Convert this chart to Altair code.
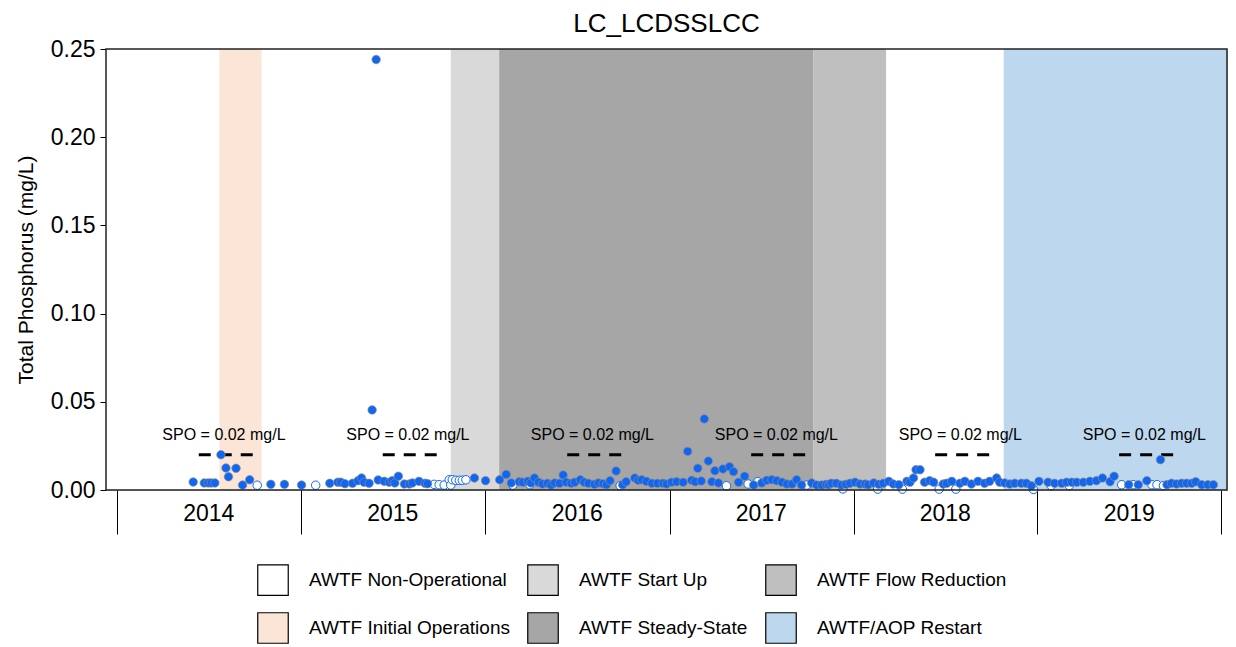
import altair as alt
import pandas as pd

FONT = "Liberation Sans"
W, H = 1121, 441

# ---- detected (filled) samples ----
det_dates = [
    "2014-06-01", "2014-06-23", "2014-07-01", "2014-07-07", "2014-07-14", "2014-07-26", "2014-08-05",
    "2014-08-10", "2014-08-25", "2014-09-07", "2014-09-21", "2014-11-02", "2014-11-29",
    "2015-01-02", "2015-02-27", "2015-03-15", "2015-03-21", "2015-03-29", "2015-04-13", "2015-04-24",
    "2015-05-01", "2015-05-06", "2015-05-16", "2015-05-22", "2015-05-30", "2015-06-03", "2015-06-15",
    "2015-06-25", "2015-07-01", "2015-07-06", "2015-07-13", "2015-07-25", "2015-08-04", "2015-08-10",
    "2015-08-23", "2015-09-04", "2015-09-09", "2015-12-11",
    "2016-01-02", "2016-01-30", "2016-02-12", "2016-02-22", "2016-03-09", "2016-03-16", "2016-03-26",
    "2016-04-01", "2016-04-08", "2016-04-16", "2016-04-24", "2016-05-04", "2016-05-11", "2016-05-18",
    "2016-05-28", "2016-06-04", "2016-06-10", "2016-06-20", "2016-06-27", "2016-07-08", "2016-07-16",
    "2016-07-24", "2016-08-05", "2016-08-13", "2016-08-22", "2016-08-29", "2016-09-05", "2016-09-17",
    "2016-09-30", "2016-10-07", "2016-10-24", "2016-10-31", "2016-11-07", "2016-11-16", "2016-11-27",
    "2016-12-08", "2016-12-19", "2016-12-26",
    "2017-01-05", "2017-01-15", "2017-01-28", "2017-02-06", "2017-02-14", "2017-02-21", "2017-02-26",
    "2017-03-05", "2017-03-11", "2017-03-19", "2017-03-26", "2017-04-01", "2017-04-08", "2017-04-17",
    "2017-04-30", "2017-05-08", "2017-05-18", "2017-05-30", "2017-06-17", "2017-07-03", "2017-07-13",
    "2017-07-23", "2017-08-02", "2017-08-12", "2017-08-22", "2017-09-01", "2017-09-10", "2017-09-20",
    "2017-10-10", "2017-10-20", "2017-10-30", "2017-11-08", "2017-11-13", "2017-11-18", "2017-11-28",
    "2017-12-08", "2017-12-17", "2017-12-25",
    "2018-01-04", "2018-01-14", "2018-01-24", "2018-01-30", "2018-02-10", "2018-02-20", "2018-03-01",
    "2018-03-12", "2018-03-21", "2018-04-01", "2018-04-17", "2018-04-23", "2018-04-30", "2018-05-05",
    "2018-05-13", "2018-05-22", "2018-06-01", "2018-06-09", "2018-06-28", "2018-07-05", "2018-07-15",
    "2018-07-31", "2018-08-10", "2018-08-23", "2018-09-05", "2018-09-18", "2018-09-28", "2018-10-12",
    "2018-10-18", "2018-10-28", "2018-11-07", "2018-11-17", "2018-11-30", "2018-12-10", "2018-12-20",
    "2019-01-04", "2019-01-22", "2019-02-04", "2019-02-18", "2019-02-28", "2019-03-10", "2019-03-20",
    "2019-04-02", "2019-04-15", "2019-04-28", "2019-05-10", "2019-05-25", "2019-06-02", "2019-07-01",
    "2019-07-20", "2019-08-06", "2019-09-02", "2019-09-15", "2019-09-24", "2019-10-04", "2019-10-14",
    "2019-10-24", "2019-11-03", "2019-11-11", "2019-11-23", "2019-12-05", "2019-12-16",
]
det_values = [
    0.0045, 0.0040, 0.0040, 0.0040, 0.0040, 0.0200, 0.0125,
    0.0075, 0.0123, 0.0028, 0.0058, 0.0032, 0.0032,
    0.0028, 0.0038, 0.0044, 0.0044, 0.0036, 0.0038, 0.0053,
    0.0068, 0.0044, 0.0038, 0.0454, 0.2440, 0.0057, 0.0049,
    0.0044, 0.0053, 0.0040, 0.0078, 0.0034, 0.0034, 0.0040,
    0.0049, 0.0038, 0.0036, 0.0068,
    0.0053, 0.0058, 0.0088, 0.0040, 0.0047, 0.0044, 0.0049,
    0.0040, 0.0068, 0.0044, 0.0034, 0.0038, 0.0028, 0.0040,
    0.0038, 0.0085, 0.0044, 0.0038, 0.0044, 0.0058, 0.0044,
    0.0038, 0.0032, 0.0040, 0.0036, 0.0030, 0.0053, 0.0108,
    0.0030, 0.0047, 0.0068, 0.0055, 0.0058, 0.0049, 0.0038,
    0.0038, 0.0038, 0.0034,
    0.0044, 0.0047, 0.0044, 0.0219, 0.0055, 0.0047, 0.0123,
    0.0051, 0.0403, 0.0164, 0.0047, 0.0109, 0.0040, 0.0119,
    0.0132, 0.0104, 0.0044, 0.0078, 0.0028, 0.0040, 0.0055,
    0.0058, 0.0053, 0.0044, 0.0034, 0.0034, 0.0058, 0.0028,
    0.0040, 0.0028, 0.0028, 0.0032, 0.0030, 0.0038, 0.0038,
    0.0028, 0.0032, 0.0038,
    0.0044, 0.0034, 0.0034, 0.0030, 0.0040, 0.0032, 0.0038,
    0.0049, 0.0034, 0.0030, 0.0049, 0.0044, 0.0068, 0.0115,
    0.0115, 0.0044, 0.0053, 0.0044, 0.0034, 0.0038, 0.0049,
    0.0038, 0.0049, 0.0034, 0.0049, 0.0038, 0.0049, 0.0068,
    0.0044, 0.0040, 0.0034, 0.0038, 0.0038, 0.0038, 0.0024,
    0.0049, 0.0044, 0.0038, 0.0038, 0.0044, 0.0044, 0.0044,
    0.0044, 0.0049, 0.0053, 0.0068, 0.0047, 0.0078, 0.0030,
    0.0030, 0.0053, 0.0172, 0.0030, 0.0038, 0.0034, 0.0038,
    0.0038, 0.0038, 0.0047, 0.0030, 0.0030, 0.0030,
]

# ---- non-detect (hollow) samples ----
nd_dates = [
    "2014-10-06", "2015-01-30", "2015-09-22", "2015-10-02", "2015-10-12", "2015-10-22", "2015-10-25",
    "2015-10-28", "2015-11-04", "2015-11-11", "2015-11-17", "2015-11-24", "2016-02-25", "2016-03-30",
    "2016-09-25", "2017-04-24", "2017-06-06", "2017-06-25", "2017-09-30", "2017-12-11", "2018-02-18",
    "2018-04-08", "2018-06-20", "2018-07-23", "2018-12-24", "2019-01-28", "2019-03-05", "2019-06-17",
    "2019-07-10", "2019-08-16", "2019-08-26", "2019-09-08",
]
nd_values = [
    0.0027, 0.0027, 0.0032, 0.0030, 0.0028, 0.0058, 0.0028,
    0.0058, 0.0055, 0.0055, 0.0055, 0.0058, 0.0028, 0.0030,
    0.0025, 0.0024, 0.0034, 0.0047, 0.0028, 0.0006, 0.0005,
    0.0005, 0.0005, 0.0005, 0.0003, 0.0025, 0.0025, 0.0030,
    0.0030, 0.0030, 0.0030, 0.0025,
]

# ---- operational periods ----
period_names = [
    "AWTF Non-Operational", "AWTF Initial Operations", "AWTF Non-Operational", "AWTF Start Up",
    "AWTF Steady-State", "AWTF Flow Reduction", "AWTF Non-Operational", "AWTF/AOP Restart",
]
period_start = ["2013-12-10", "2014-07-23", "2014-10-15", "2015-10-25",
                "2016-01-29", "2017-10-13", "2018-03-07", "2018-10-26"]
period_end = ["2014-07-23", "2014-10-15", "2015-10-25", "2016-01-29",
              "2017-10-13", "2018-03-07", "2018-10-26", "2020-01-12"]
legend_order = ["AWTF Non-Operational", "AWTF Start Up", "AWTF Flow Reduction",
                "AWTF Initial Operations", "AWTF Steady-State", "AWTF/AOP Restart"]
legend_colors = ["#FFFFFF", "#D9D9D9", "#BFBFBF", "#FBE5D6", "#A6A6A6", "#BDD7EE"]

# ---- SPO guideline ----
spo_start = ["2014-06-12", "2015-06-12", "2016-06-12", "2017-06-12", "2018-06-12", "2019-06-12"]
spo_end = ["2014-10-01", "2015-10-01", "2016-10-01", "2017-10-01", "2018-10-01", "2019-10-01"]
spo_mid = ["2014-08-01", "2015-08-01", "2016-08-01", "2017-08-01", "2018-08-01", "2019-08-01"]
spo_values = [0.02] * 6
spo_labels = ["SPO = 0.02 mg/L"] * 6
spo_label_y = [0.0313] * 6

# ---- year axis ----
year_labels = ["2014", "2015", "2016", "2017", "2018", "2019"]
year_mid = ["2014-07-02", "2015-07-02", "2016-07-02", "2017-07-02", "2018-07-02", "2019-07-02"]
year_ticks = [alt.DateTime(year=y, month=1, date=1) for y in range(2014, 2021)]

det_df = pd.DataFrame({"date": det_dates, "value": det_values})
nd_df = pd.DataFrame({"date": nd_dates, "value": nd_values})
per_df = pd.DataFrame({"period": period_names, "start": period_start, "end": period_end})
spo_df = pd.DataFrame({"start": spo_start, "end": spo_end, "mid": spo_mid, "value": spo_values,
                       "label": spo_labels, "ly": spo_label_y})
yr_df = pd.DataFrame({"year": year_labels, "mid": year_mid})
frame_df = pd.DataFrame({"k": [1]})

xscale = alt.Scale(domain=[alt.DateTime(year=2013, month=12, date=10),
                           alt.DateTime(year=2020, month=1, date=12)])
yscale = alt.Scale(domain=[0, 0.25], nice=False)

xaxis = alt.Axis(values=year_ticks, labels=False, tickSize=44, tickColor="black", tickWidth=1,
                 domain=False, grid=False, title=None)
yaxis = alt.Axis(values=[0, 0.05, 0.10, 0.15, 0.20, 0.25], format=".2f", labelFontSize=23,
                 labelFont=FONT, labelColor="black", tickColor="black", tickSize=6, labelPadding=5,
                 title="Total Phosphorus (mg/L)", titleFontSize=21, titleFont=FONT,
                 titleFontWeight="normal", titleColor="black", titlePadding=14, grid=False,
                 domain=False)

rects = alt.Chart(per_df).mark_rect().encode(
    x=alt.X("start:T", scale=xscale, axis=xaxis),
    x2="end:T",
    y=alt.value(0),
    y2=alt.value(H),
    color=alt.Color("period:N",
                    scale=alt.Scale(domain=legend_order, range=legend_colors),
                    legend=alt.Legend(title=None, orient="none", legendX=151, legendY=515,
                                      columns=3, direction="horizontal", symbolType="square",
                                      symbolSize=930, symbolStrokeColor="black",
                                      symbolStrokeWidth=1.2, symbolOpacity=1, labelFontSize=19,
                                      labelFont=FONT, labelColor="black", labelOffset=20,
                                      columnPadding=15, rowPadding=12, labelLimit=400)),
)

spo_rule = alt.Chart(spo_df).mark_rule(color="black", strokeWidth=3, strokeDash=[12, 9]).encode(
    x="start:T", x2="end:T", y=alt.Y("value:Q", scale=yscale, axis=yaxis)
)
spo_text = alt.Chart(spo_df).mark_text(font=FONT, fontSize=16, color="black",
                                       baseline="middle", align="center").encode(
    x="mid:T", y="ly:Q", text="label:N"
)

hollow = alt.Chart(nd_df).mark_point(shape="circle", filled=True, fill="white", stroke="#0F66F2",
                                     strokeWidth=1, size=72, opacity=1).encode(
    x="date:T", y="value:Q"
)
filled = alt.Chart(det_df).mark_point(shape="circle", filled=True, fill="#0F66F2", stroke="#8C8C8C",
                                      strokeWidth=0.7, size=72, opacity=1).encode(
    x="date:T", y="value:Q"
)

years = alt.Chart(yr_df).mark_text(font=FONT, fontSize=23, color="black", baseline="middle",
                                   align="center").encode(
    x="mid:T", y=alt.value(H + 24), text="year:N"
)

frame = alt.Chart(frame_df).mark_rect(filled=False, stroke="#222222", strokeWidth=1.5).encode(
    x=alt.value(0), x2=alt.value(W), y=alt.value(0), y2=alt.value(H)
)

chart = alt.layer(rects, spo_rule, spo_text, hollow, filled, years, frame).properties(
    width=W, height=H,
    title=alt.Title("LC_LCDSSLCC", fontSize=26, font=FONT, fontWeight="normal", color="black",
                    offset=1, anchor="middle"),
    padding={"left": 7, "top": 3, "right": 0, "bottom": 0},
).configure_view(stroke=None).configure(background="white")

chart.save("out.html", embed_options={"renderer": "svg", "actions": False})
